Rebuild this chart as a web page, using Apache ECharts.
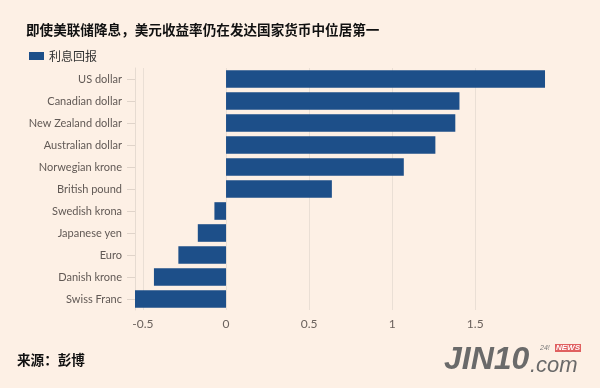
<!DOCTYPE html>
<html><head><meta charset="utf-8">
<script src="https://cdn.jsdelivr.net/npm/echarts@6/dist/echarts.min.js"></script>
<style>html,body{margin:0;padding:0;background:#fdf0e5;}#c{width:600px;height:388px;}</style>
</head><body><div id="c"></div>
<script>
const categories = ['US dollar','Canadian dollar','New Zealand dollar','Australian dollar','Norwegian krone','British pound','Swedish krona','Japanese yen','Euro','Danish krone','Swiss Franc'];
const values = [1.92, 1.405, 1.38, 1.26, 1.07, 0.637, -0.07, -0.17, -0.287, -0.434, -0.548];
const tickValues = [-0.5, 0, 0.5, 1, 1.5];
const seriesName = '利息回报';
const title = '即使美联储降息，美元收益率仍在发达国家货币中位居第一';
const source = '来源：彭博';

const chart = echarts.init(document.getElementById('c'));
chart.setOption({
  backgroundColor: '#fdf0e5',
  animation: false,
  title: {text: title, left: 21, top: 18, textStyle: {fontFamily: 'Noto Sans CJK SC', fontSize: 13.6, fontWeight: 'bold', color: '#111'}},
  legend: {left: 24, top: 45, itemWidth: 15, itemHeight: 8, itemGap: 6, icon: 'rect', textStyle: {fontFamily: 'Noto Sans CJK SC', fontSize: 12, color: '#333'}, data: [seriesName]},
  grid: {left: 135, top: 68, right: 50, bottom: 78, containLabel: false},
  xAxis: {type: 'value', min: -0.548, max: 1.95,
    axisLine: {show: false}, axisTick: {show: false, customValues: tickValues},
    splitLine: {show: true, lineStyle: {color: '#eadfd5', width: 1}},
    axisLabel: {customValues: tickValues, color: '#6b625d', fontFamily: 'Lato', fontSize: 12, margin: 8}
  },
  yAxis: {type: 'category', data: categories, inverse: true,
    axisLine: {show: true, onZero: false, lineStyle: {color: '#e6dbd1'}},
    axisTick: {show: true, alignWithLabel: true, length: 8, lineStyle: {color: '#e0d4ca'}},
    axisLabel: {color: '#615955', fontFamily: 'Lato', fontSize: 11, margin: 13}
  },
  series: [{name: seriesName, type: 'bar', data: values, barCategoryGap: '20%',
    itemStyle: {color: '#1d4f89'}}],
  graphic: [
    {type: 'text', left: 17, top: 353, style: {text: source, font: 'bold 13.6px "Noto Sans CJK SC"', fill: '#111'}},
    {type: 'text', left: 444, top: 344, style: {text: 'JIN10', font: 'italic bold 32px "Liberation Sans"', fill: '#6a6a6a'}},
    {type: 'text', left: 530, top: 355, style: {text: '.com', font: 'italic 22px "Liberation Sans"', fill: '#6a6a6a'}},
    {type: 'text', left: 540, top: 345, style: {text: '24!', font: 'italic 7px "Liberation Sans"', fill: '#777'}},
    {type: 'text', left: 555, top: 344, style: {text: 'NEWS', font: 'italic bold 8px "Liberation Sans"', fill: '#fff', backgroundColor: '#e06060', padding: [0,1]}}
  ]
});
</script></body></html>
